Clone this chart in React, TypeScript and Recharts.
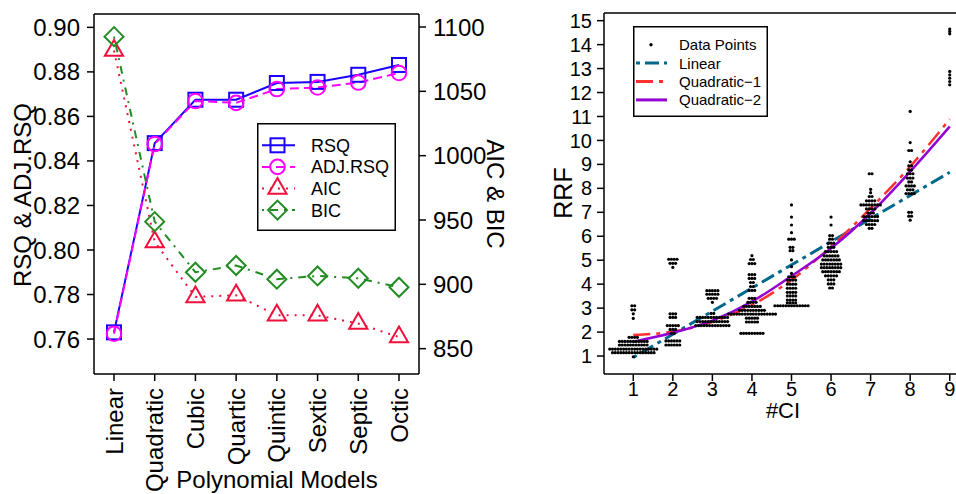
import React from 'react';
import { ComposedChart, LineChart, Line, Scatter, XAxis, YAxis, ReferenceLine, Legend } from 'recharts';

// ---- left panel: model comparison ----
const models = ['Linear', 'Quadratic', 'Cubic', 'Quartic', 'Quintic', 'Sextic', 'Septic', 'Octic'];
const rsq = [0.763, 0.848, 0.8675, 0.8675, 0.875, 0.8755, 0.8787, 0.8831];
const adjRsq = [0.7624, 0.8476, 0.8669, 0.8661, 0.8723, 0.873, 0.8752, 0.8795];
const aic = [1081.7, 932.9, 890.2, 891.5, 875.9, 875.9, 869.5, 859];
const bic = [1092.5, 948.7, 909.4, 914.6, 904, 906.5, 904.7, 897.7];
const rsqTicks = [0.76, 0.78, 0.8, 0.82, 0.84, 0.86, 0.88, 0.9];
const icTicks = [850, 900, 950, 1000, 1050, 1100];

// ---- right panel: RRF vs #CI ----
const ciTicks = [1, 2, 3, 4, 5, 6, 7, 8, 9];
const rrfTicks = [1, 2, 3, 4, 5, 6, 7, 8, 9, 10, 11, 12, 13, 14, 15];
// rows of the beeswarm at each #CI: [RRF, points in the row]
const swarm1 = [[3.1, 2], [2.93, 2], [2.76, 1], [2.57, 1], [1.78, 4], [1.61, 11], [1.46, 11], [1.29, 18], [1.14, 16], [0.97, 1]];
const swarm2 = [[5.04, 4], [4.87, 3], [4.7, 1], [2.76, 3], [2.61, 3], [2.27, 5], [2.11, 3], [1.95, 2], [1.63, 6], [1.46, 6]];
const swarm3 = [[3.73, 5], [3.58, 5], [3.41, 4], [3.24, 1], [2.78, 2], [2.61, 12], [2.44, 12], [2.27, 13]];
const swarm4 = [[5.19, 1], [5.03, 2], [4.86, 3], [4.4, 3], [4.24, 3], [4.07, 2], [3.9, 2], [3.74, 3], [3.41, 3], [3.24, 4], [3.07, 7], [2.91, 10], [2.75, 18], [2.58, 5], [2.42, 5], [1.95, 9]];
const swarm5 = [[7.31, 1], [6.8, 1], [6.47, 1], [6.15, 1], [5.88, 3], [5.54, 2], [5.4, 2], [5.01, 1], [4.73, 1], [4.45, 1], [4.31, 3], [4.17, 4], [4.0, 4], [3.83, 4], [3.66, 4], [3.51, 4], [3.34, 4], [3.22, 4], [3.1, 13]];
const swarm6 = [[6.8, 1], [6.47, 1], [6.03, 2], [5.88, 2], [5.71, 3], [5.54, 3], [5.36, 5], [5.18, 6], [5.01, 7], [4.84, 8], [4.69, 8], [4.52, 7], [4.35, 5], [4.18, 3], [4.01, 3], [3.84, 2]];
const swarm7 = [[8.61, 2], [7.96, 1], [7.82, 1], [7.66, 2], [7.48, 4], [7.31, 8], [7.14, 4], [6.97, 3], [6.82, 6], [6.65, 6], [6.49, 4], [6.33, 2]];
const swarm8 = [[11.21, 1], [9.91, 1], [9.58, 2], [9.11, 1], [8.94, 2], [8.77, 2], [8.61, 3], [8.43, 3], [8.27, 2], [8.1, 4], [7.94, 3], [7.78, 4], [7, 2], [6.84, 2], [6.67, 1]];
const swarm9 = [[14.65, 1], [14.55, 1], [14.45, 1], [12.88, 1], [12.74, 1], [12.6, 1], [12.46, 1], [12.32, 1]];
const linearX = [1, 9];
const linearY = [0.94, 8.67];
const quad1 = [1.88, 2.02, 2.43, 3.13, 4.18, 5.57, 7.17, 8.91, 10.89];
const quad2 = [1.6, 1.97, 2.48, 3.27, 4.34, 5.5, 6.96, 8.7, 10.58];

const BLUE = '#1a00ff';
const MAGENTA = '#ff00ff';
const RED = '#f0103c';
const GREEN = '#228b22';
const TEAL = '#00688b';
const QRED = '#ff3030';
const PURPLE = '#9400d3';

const modelData = models.map((m, i) => ({ model: m, rsq: rsq[i], adj: adjRsq[i], aic: aic[i], bic: bic[i] }));

const swarms = [swarm1, swarm2, swarm3, swarm4, swarm5, swarm6, swarm7, swarm8, swarm9];
const DOT_STEP = 0.07; // horizontal spacing of swarm dots, in #CI units
const points: { x: number; y: number }[] = [];
swarms.forEach((rows, k) => {
  rows.forEach(([v, n]) => {
    for (let i = 0; i < n; i++) points.push({ x: ciTicks[k] + (i - (n - 1) / 2) * DOT_STEP, y: v });
  });
});
const linearData = linearX.map((x, i) => ({ x, y: linearY[i] }));
const quad1Data = ciTicks.map((x, i) => ({ x, y: quad1[i] }));
const quad2Data = ciTicks.map((x, i) => ({ x, y: quad2[i] }));

const axisLine = { stroke: '#000', strokeWidth: 1.5 };

function Marker({ kind, cx, cy, color }: any) {
  if (cx == null || cy == null) return null;
  const common = { fill: 'none', stroke: color, strokeWidth: 2 };
  if (kind === 'square') return <rect x={cx - 7} y={cy - 7} width={14} height={14} {...common} />;
  if (kind === 'circle') return <circle cx={cx} cy={cy} r={7.3} {...common} />;
  if (kind === 'triangle') {
    const r = 10.5, h = r * 0.866;
    return <polygon points={`${cx},${cy - r} ${cx - h},${cy + r / 2} ${cx + h},${cy + r / 2}`} {...common} />;
  }
  const d = 9.5;
  return <polygon points={`${cx},${cy - d} ${cx + d},${cy} ${cx},${cy + d} ${cx - d},${cy}`} {...common} />;
}

const dotOf = (kind: string, color: string) => (p: any) => (
  <Marker key={`${kind}-${p.index}`} kind={kind} cx={p.cx} cy={p.cy} color={color} />
);

function ModelTick({ x, y, payload }: any) {
  return (
    <text x={x} y={y} transform={`rotate(-90 ${x} ${y})`} textAnchor="end" dy="0.36em" fontSize={24} fill="#000">
      {payload.value}
    </text>
  );
}

const leftItems = [
  { name: 'RSQ', color: BLUE, dash: undefined, kind: 'square' },
  { name: 'ADJ.RSQ', color: MAGENTA, dash: '9 5', kind: 'circle' },
  { name: 'AIC', color: RED, dash: '2 6', kind: 'triangle' },
  { name: 'BIC', color: GREEN, dash: '2 6 8 6', kind: 'diamond' },
];

function LeftLegend() {
  return (
    <svg width={139} height={108} style={{ display: 'block' }}>
      <rect x={0.75} y={0.75} width={137.5} height={106.5} fill="#fff" stroke="#000" strokeWidth={1.5} />
      {leftItems.map((it, i) => {
        const y = 22.3 + i * 21.6;
        return (
          <g key={it.name}>
            <line x1={5} x2={38} y1={y} y2={y} stroke={it.color} strokeWidth={2} strokeDasharray={it.dash} />
            <Marker kind={it.kind} cx={20.5} cy={y} color={it.color} />
            <text x={54} y={y} dy="0.36em" fontSize={18} fill="#000">{it.name}</text>
          </g>
        );
      })}
    </svg>
  );
}

const rightItems = [
  { name: 'Data Points', color: '#000', dash: 'dot' },
  { name: 'Linear', color: TEAL, dash: '4 5 14 5' },
  { name: 'Quadratic\u22121', color: QRED, dash: '17 6 4 6' },
  { name: 'Quadratic\u22122', color: PURPLE, dash: undefined },
];

function RightLegend() {
  return (
    <svg width={135} height={91} style={{ display: 'block' }}>
      <rect x={0.75} y={0.75} width={133.5} height={89.5} fill="#fff" stroke="#000" strokeWidth={1.5} />
      {rightItems.map((it, i) => {
        const y = 18.7 + i * 18.4;
        return (
          <g key={it.name}>
            {it.dash === 'dot' ? (
              <circle cx={18} cy={y} r={1.7} fill="#000" />
            ) : (
              <line x1={3} x2={34} y1={y} y2={y} stroke={it.color} strokeWidth={3} strokeDasharray={it.dash} />
            )}
            <text x={46} y={y} dy="0.36em" fontSize={15} fill="#000">{it.name}</text>
          </g>
        );
      })}
    </svg>
  );
}

const SwarmDot = (p: any) => <circle cx={p.cx} cy={p.cy} r={1.6} fill="#000" />;

export default function App() {
  return (
    <div style={{ position: 'fixed', left: 0, top: 0, width: 956, height: 494, overflow: 'hidden', background: '#fff', fontFamily: '"Liberation Sans", Arial, sans-serif' }}>
      <div style={{ position: 'absolute', left: 0, top: 0 }}>
        <LineChart width={540} height={494} data={modelData} margin={{ top: 14, right: 0, bottom: 0, left: 0 }}>
          <XAxis dataKey="model" interval={0} padding={{ left: 20, right: 20 }} height={120} tickSize={7} tickMargin={7}
            axisLine={axisLine} tickLine={axisLine} tick={<ModelTick />} />
          <YAxis yAxisId="left" type="number" domain={[0.7443, 0.906]} allowDataOverflow ticks={rsqTicks} interval={0}
            width={94} tickSize={7} tickMargin={7} axisLine={axisLine} tickLine={axisLine}
            tickFormatter={(v: number) => v.toFixed(2)} tick={{ fontSize: 24, fill: '#000' }} />
          <YAxis yAxisId="right" orientation="right" type="number" domain={[830.3, 1110.1]} allowDataOverflow ticks={icTicks}
            interval={0} width={121} tickSize={7} tickMargin={7} axisLine={axisLine} tickLine={axisLine}
            tick={{ fontSize: 24, fill: '#000', textAnchor: 'start' }} />
          <ReferenceLine yAxisId="left" y={0.906} stroke="#000" strokeWidth={1.5} ifOverflow="visible" />
          <Line yAxisId="left" dataKey="rsq" stroke={BLUE} strokeWidth={2} dot={dotOf('square', BLUE)} activeDot={false} isAnimationActive={false} />
          <Line yAxisId="left" dataKey="adj" stroke={MAGENTA} strokeWidth={2} strokeDasharray="9 5" dot={dotOf('circle', MAGENTA)} activeDot={false} isAnimationActive={false} />
          <Line yAxisId="right" dataKey="aic" stroke={RED} strokeWidth={2} strokeDasharray="2 6" dot={dotOf('triangle', RED)} activeDot={false} isAnimationActive={false} />
          <Line yAxisId="right" dataKey="bic" stroke={GREEN} strokeWidth={2} strokeDasharray="2 6 8 6" dot={dotOf('diamond', GREEN)} activeDot={false} isAnimationActive={false} />
          <Legend layout="vertical" align="center" verticalAlign="middle" content={<LeftLegend />}
            wrapperStyle={{ left: 257, top: 123, width: 139, height: 108 }} />
          <text x={31} y={195} transform="rotate(-90 31 195)" textAnchor="middle" fontSize={24} fill="#000">RSQ &amp; ADJ.RSQ</text>
          <text x={487} y={194} transform="rotate(90 487 194)" textAnchor="middle" fontSize={24} fill="#000">AIC &amp; BIC</text>
          <text x={277} y={488} textAnchor="middle" fontSize={24} fill="#000">Polynomial Models</text>
        </LineChart>
      </div>
      <div style={{ position: 'absolute', left: 540, top: 0 }}>
        <ComposedChart width={460} height={494} margin={{ top: 13, right: 21, bottom: 0, left: 0 }}>
          <XAxis type="number" dataKey="x" domain={[0.26, 9.74]} allowDataOverflow ticks={ciTicks} interval={0}
            height={120} tickSize={7} tickMargin={1} axisLine={axisLine} tickLine={axisLine} tick={{ fontSize: 20, fill: '#000' }} />
          <YAxis type="number" dataKey="y" domain={[0.25, 15.32]} allowDataOverflow ticks={rrfTicks} interval={0}
            width={64} tickSize={7} tickMargin={5} axisLine={axisLine} tickLine={axisLine} tick={{ fontSize: 20, fill: '#000' }} />
          <ReferenceLine y={15.32} stroke="#000" strokeWidth={1.5} ifOverflow="visible" />
          <Scatter data={points} shape={SwarmDot} isAnimationActive={false} />
          <Line data={linearData} dataKey="y" type="linear" stroke={TEAL} strokeWidth={3} strokeDasharray="4 5 14 5" dot={false} activeDot={false} isAnimationActive={false} />
          <Line data={quad1Data} dataKey="y" type="monotone" stroke={QRED} strokeWidth={2.5} strokeDasharray="17 6 4 6" dot={false} activeDot={false} isAnimationActive={false} />
          <Line data={quad2Data} dataKey="y" type="monotone" stroke={PURPLE} strokeWidth={2.5} dot={false} activeDot={false} isAnimationActive={false} />
          <Legend layout="vertical" align="center" verticalAlign="middle" content={<RightLegend />}
            wrapperStyle={{ left: 93, top: 26, width: 135, height: 91 }} />
          <text x={32} y={193} transform="rotate(-90 32 193)" textAnchor="middle" fontSize={25} fill="#000">RRF</text>
          <text x={243} y={418} textAnchor="middle" fontSize={22} fill="#000">#CI</text>
        </ComposedChart>
      </div>
    </div>
  );
}
